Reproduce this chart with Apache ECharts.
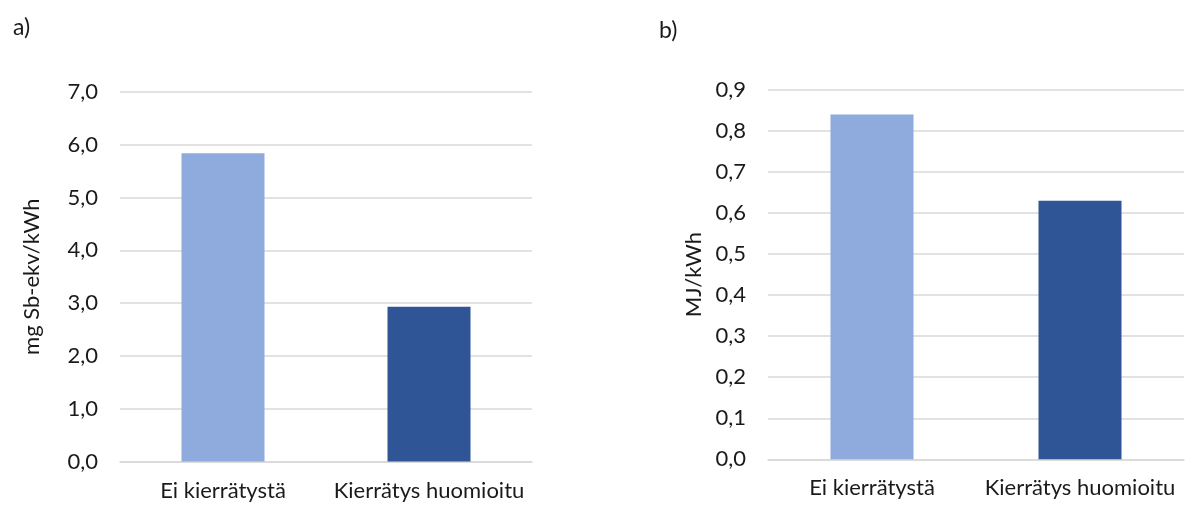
<!DOCTYPE html>
<html>
<head>
<meta charset="utf-8">
<script src="https://cdn.jsdelivr.net/npm/echarts@6/dist/echarts.min.js"></script>
<style>
html,body{margin:0;padding:0;background:#fff;}
#c{width:1187px;height:505px;}
</style>
</head>
<body>
<div id="c"></div>
<script>
const categories = ['Ei kierrätystä', 'Kierrätys huomioitu'];
const valuesA = [5.84, 2.93];
const valuesB = [0.84, 0.63];
const barColors = ['#8FAADC', '#2F5597'];
const nameA = 'mg Sb-ekv/kWh';
const nameB = 'MJ/kWh';
const panelLabels = ['a)', 'b)'];

const FONT = 'Lato, "Open Sans", sans-serif';
const txt = '#1a1a1a';
const FS = 22;

function yAxis(gridIndex, max, interval, name, gap, decimals) {
  return {
    type: 'value', gridIndex, min: 0, max, interval,
    name, nameLocation: 'middle', nameGap: gap, nameRotate: 90,
    nameTextStyle: {fontFamily: FONT, fontSize: FS, color: txt},
    axisLine: {show: false}, axisTick: {show: false},
    axisLabel: {fontFamily: FONT, fontSize: FS, color: txt, margin: 22,
      formatter: v => v.toFixed(decimals).replace('.', ',')},
    splitLine: {lineStyle: {color: '#D9D9D9', width: 1.5}}
  };
}
function xAxis(gridIndex) {
  return {
    type: 'category', gridIndex, data: categories,
    axisLine: {show: true, lineStyle: {color: '#D9D9D9', width: 1.5}},
    axisTick: {show: false},
    axisLabel: {fontFamily: FONT, fontSize: FS, color: txt, margin: 18, interval: 0, hideOverlap: false}
  };
}
function barData(vals) {
  return vals.map((v, i) => ({value: v, itemStyle: {color: barColors[i]}}));
}

const chart = echarts.init(document.getElementById('c'));
chart.setOption({
  animation: false,
  backgroundColor: '#fff',
  title: [
    {text: panelLabels[0], left: 8, top: 11, textStyle: {fontFamily: FONT, fontSize: 23, fontWeight: 'normal', color: txt}},
    {text: panelLabels[1], left: 654, top: 14, textStyle: {fontFamily: FONT, fontSize: 23, fontWeight: 'normal', color: txt}}
  ],
  grid: [
    {left: 120, width: 412, top: 92, bottom: 43.5, containLabel: false},
    {left: 768, width: 416, top: 90, bottom: 45.7, containLabel: false}
  ],
  xAxis: [xAxis(0), xAxis(1)],
  yAxis: [yAxis(0, 7, 1, nameA, 77, 1), yAxis(1, 0.9, 0.1, nameB, 63, 1)],
  series: [
    {type: 'bar', xAxisIndex: 0, yAxisIndex: 0, data: barData(valuesA), barWidth: 83},
    {type: 'bar', xAxisIndex: 1, yAxisIndex: 1, data: barData(valuesB), barWidth: 83}
  ]
});
</script>
</body>
</html>
